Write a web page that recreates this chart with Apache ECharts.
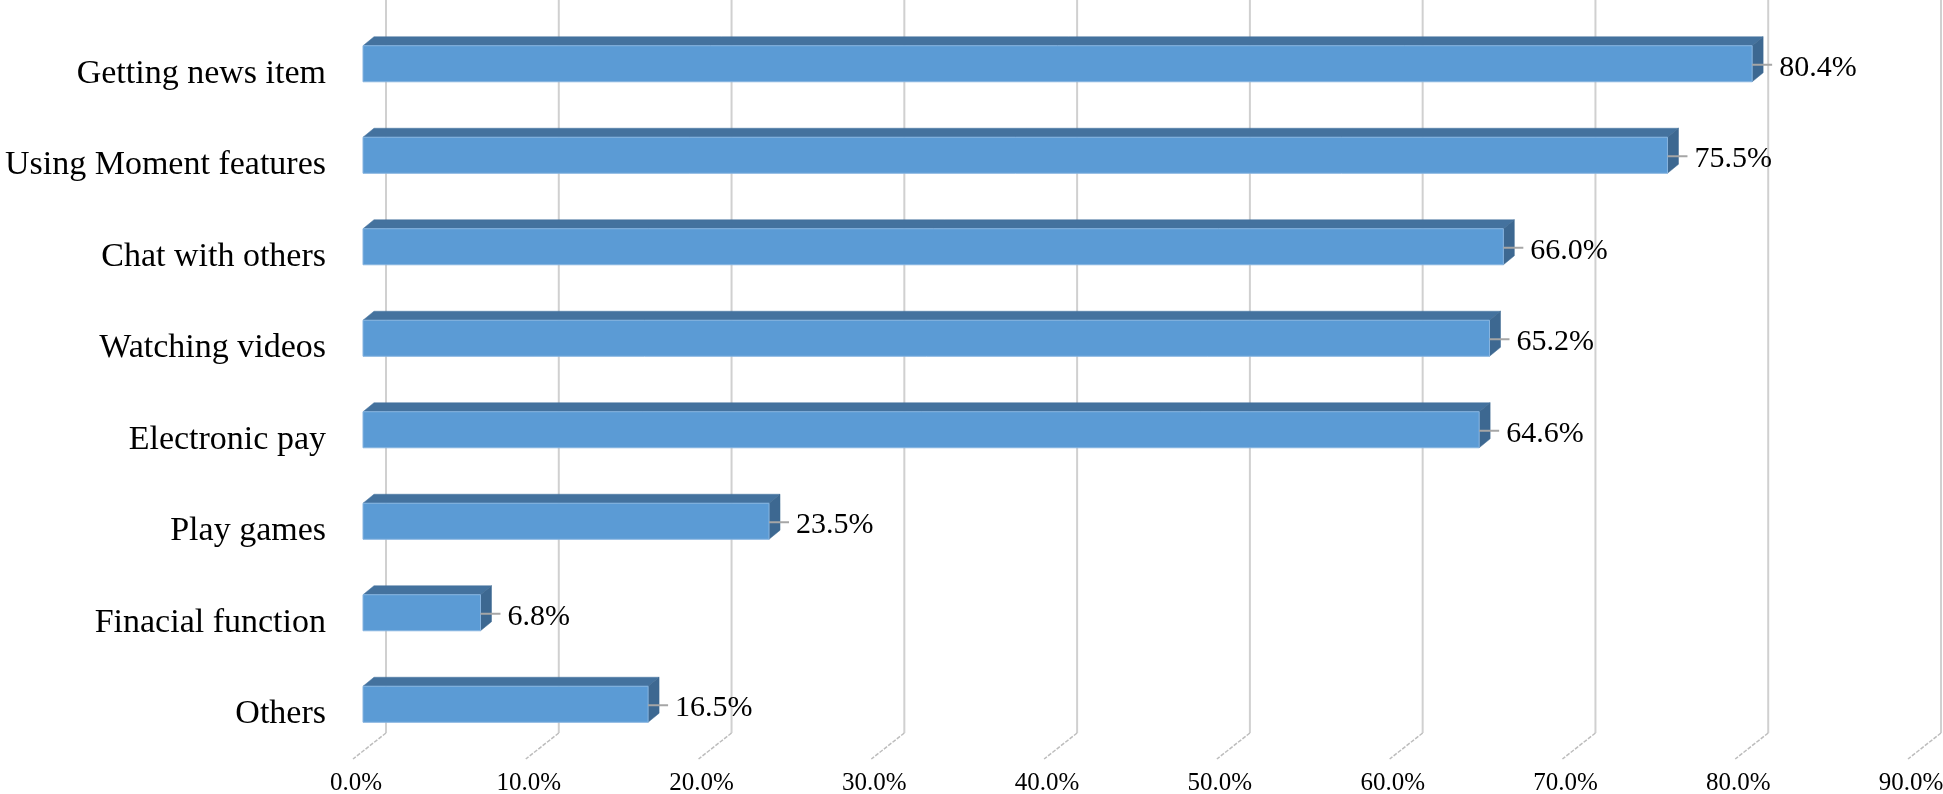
<!DOCTYPE html>
<html>
<head>
<meta charset="utf-8">
<script src="https://cdn.jsdelivr.net/npm/echarts@6/dist/echarts.min.js"></script>
<style>
html,body{margin:0;padding:0;background:#fff;}
#chart{width:1943px;height:794px;}
</style>
</head>
<body>
<div id="chart"></div>
<script>
var categories = ['Getting news item','Using Moment features','Chat with others','Watching videos','Electronic pay','Play games','Finacial function','Others'];
var values = [80.4, 75.5, 66.0, 65.2, 64.6, 23.5, 6.8, 16.5];
var xTicks = [0, 10, 20, 30, 40, 50, 60, 70, 80, 90];

var SERIF = '"Liberation Serif","Times New Roman",serif';
var DX = 11, DY = -9;          // bar depth offset
var WALL = 23;                 // back wall offset
var chart = echarts.init(document.getElementById('chart'));

function renderGrid(params, api) {
  var cs = params.coordSys;
  var x = api.coord([api.value(0), 0])[0];
  var bottom = cs.y + cs.height;
  var bx = x + WALL;
  return {
    type: 'group',
    children: [
      { type: 'line', shape: { x1: bx, y1: 0, x2: bx, y2: bottom - 17 },
        style: { stroke: '#d0d0d0', lineWidth: 2 } },
      { type: 'line', shape: { x1: bx, y1: bottom - 17, x2: x - 10, y2: bottom + 9 },
        style: { stroke: '#bdbdbd', lineWidth: 1.5, lineDash: [4, 1.5] } }
    ]
  };
}

function renderBar(params, api) {
  var v = api.value(0);
  var idx = params.dataIndex;
  var p0 = api.coord([0, idx]);
  var p1 = api.coord([v, idx]);
  var band = api.size([0, 1])[1];
  var h = band * 0.394;
  var x0 = p0[0], x1 = p1[0], yc = p0[1];
  var top = yc - h / 2, bot = yc + h / 2;
  return {
    type: 'group',
    children: [
      { type: 'text', x: x0 - 37, y: yc + 10,
        style: { text: categories[idx], font: '34px ' + SERIF, fill: '#000',
                 textAlign: 'right', textVerticalAlign: 'middle' } },
      { type: 'polygon', shape: { points: [[x0, top], [x0 + DX, top + DY], [x1 + DX, top + DY], [x1, top]] },
        style: { fill: '#44729e', stroke: '#44729e', lineWidth: 0.5 } },
      { type: 'polygon', shape: { points: [[x1, top], [x1 + DX, top + DY], [x1 + DX, bot + DY], [x1, bot]] },
        style: { fill: '#3d6891', stroke: '#3d6891', lineWidth: 0.5 } },
      { type: 'rect', shape: { x: x0, y: top, width: x1 - x0, height: h },
        style: { fill: '#5b9bd5', stroke: '#86b4e0', lineWidth: 1 } },
      { type: 'line', shape: { x1: x1, y1: yc + 1, x2: x1 + 20, y2: yc + 1 },
        style: { stroke: '#a6a6a6', lineWidth: 2 } },
      { type: 'text', x: x1 + 27, y: yc + 4,
        style: { text: v.toFixed(1) + '%', font: '30px ' + SERIF, fill: '#000',
                 textAlign: 'left', textVerticalAlign: 'middle' } }
    ]
  };
}

var option = {
  backgroundColor: '#fff',
  animation: false,
  grid: { left: 363, right: 25, top: 18, bottom: 44, outerBoundsMode: 'none', containLabel: false },
  xAxis: {
    type: 'value', min: 0, max: 90, interval: 10,
    axisLine: { show: false }, axisTick: { show: false }, splitLine: { show: false },
    axisLabel: { formatter: function (v) { return v.toFixed(1) + '%'; },
                 fontFamily: SERIF, fontSize: 25, color: '#000', margin: 21,
                 padding: [0, 14, 0, 0] }
  },
  yAxis: {
    type: 'category', data: categories, inverse: true,
    axisLine: { show: false }, axisTick: { show: false }, splitLine: { show: false },
    axisLabel: { show: false }
  },
  series: [
    { type: 'custom', renderItem: renderGrid, data: xTicks.map(function (t) { return [t]; }),
      encode: { x: 0 }, silent: true, z: 1 },
    { type: 'custom', renderItem: renderBar,
      data: values.map(function (v, i) { return [v, categories[i]]; }),
      encode: { x: 0, y: 1 }, z: 2 }
  ]
};
chart.setOption(option);
</script>
</body>
</html>
